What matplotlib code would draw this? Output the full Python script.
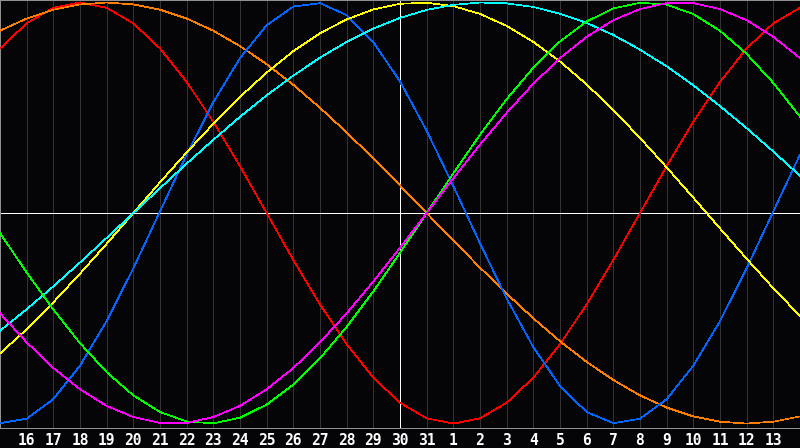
import matplotlib
matplotlib.use("Agg")
import matplotlib.pyplot as plt

# day labels along the bottom (gridline k=1..29), k=0 and k=30 are the edges
day_labels = ["16", "17", "18", "19", "20", "21", "22", "23", "24", "25", "26",
              "27", "28", "29", "30", "31", "1", "2", "3", "4", "5", "6", "7",
              "8", "9", "10", "11", "12", "13"]

# curve values read at each gridline k=0..30
blue = [-0.998, -0.977, -0.884, -0.725, -0.513, -0.262, 0.008, 0.278, 0.527, 0.736,
        0.892, 0.981, 0.997, 0.940, 0.812, 0.625, 0.391, 0.128, -0.144, -0.406,
        -0.637, -0.822, -0.945, -0.998, -0.977, -0.884, -0.725, -0.513, -0.262,
        0.008, 0.278]
red = [0.782, 0.901, 0.975, 1.000, 0.975, 0.901, 0.782, 0.623, 0.434, 0.223,
       0.0, -0.223, -0.434, -0.623, -0.782, -0.901, -0.975, -1.000, -0.975, -0.901,
       -0.782, -0.623, -0.434, -0.223, 0.0, 0.223, 0.434, 0.623, 0.782, 0.901, 0.975]
orange = [0.866, 0.924, 0.966, 0.991, 1.000, 0.991, 0.966, 0.924, 0.866, 0.793,
          0.707, 0.609, 0.500, 0.383, 0.259, 0.131, 0.0, -0.131, -0.259, -0.383,
          -0.500, -0.609, -0.707, -0.793, -0.866, -0.924, -0.966, -0.991, -1.000,
          -0.991, -0.966]
cyan = [-0.559, -0.457, -0.348, -0.235, -0.118, 0.0, 0.118, 0.235, 0.348, 0.457,
        0.559, 0.653, 0.738, 0.813, 0.876, 0.927, 0.965, 0.989, 1.000, 0.996,
        0.979, 0.947, 0.903, 0.846, 0.776, 0.697, 0.607, 0.508, 0.403, 0.292, 0.177]
yellow = [-0.667, -0.552, -0.424, -0.288, -0.146, 0.0, 0.146, 0.288, 0.424, 0.552,
          0.667, 0.769, 0.854, 0.920, 0.967, 0.994, 0.999, 0.983, 0.946, 0.889,
          0.813, 0.720, 0.611, 0.489, 0.357, 0.217, 0.073, -0.073, -0.217, -0.357,
          -0.489]
green = [-0.095, -0.282, -0.458, -0.618, -0.756, -0.866, -0.945, -0.990, -0.999,
         -0.972, -0.910, -0.815, -0.690, -0.541, -0.372, -0.189, 0.0, 0.189, 0.372,
         0.541, 0.690, 0.815, 0.910, 0.972, 0.999, 0.990, 0.945, 0.866, 0.756,
         0.618, 0.458]
magenta = [-0.476, -0.614, -0.736, -0.837, -0.916, -0.969, -0.997, -0.997, -0.969,
           -0.916, -0.837, -0.736, -0.614, -0.476, -0.325, -0.165, 0.0, 0.165,
           0.325, 0.476, 0.614, 0.736, 0.837, 0.916, 0.969, 0.997, 0.997, 0.969,
           0.916, 0.837, 0.736]

days = list(range(len(blue)))
px = 0.72  # one pixel at dpi 100

fig = plt.figure(figsize=(8, 4.48), dpi=100, facecolor="#050508")
ax = fig.add_axes([0, 20 / 448, 1, 428 / 448])
ax.set_facecolor("#050508")

# day gridlines
for k in range(1, 30):
    ax.axvline(k, color="#333333", lw=px, antialiased=False, zorder=1)
ax.axvline(15, color="white", lw=px, antialiased=False, zorder=2)
ax.axhline(0, color="white", lw=px, antialiased=False, zorder=2)

series = [(red, "#ff0000"), (orange, "#ff8000"), (blue, "#0066ff"),
          (yellow, "#ffff00"), (cyan, "#00ffff"), (green, "#00ff00"),
          (magenta, "#ff00ff")]
for vals, col in series:
    ax.plot(days, vals, color=col, lw=0.5, antialiased=False, zorder=3)

ax.set_xlim(0, 30)
ax.set_ylim(-1.021, 1.012)
ax.set_xticks(range(1, 30))
ax.set_xticklabels(day_labels, color="white", fontsize=10.5,
                   family="DejaVu Sans Mono", fontweight="bold")
ax.tick_params(axis="x", length=0, pad=3.5)
ax.set_yticks([])
ax.spines["right"].set_visible(False)
for side in ["left", "top", "bottom"]:
    ax.spines[side].set_color("#909090")
    ax.spines[side].set_linewidth(px)

fig.savefig("out.png", dpi=100, facecolor=fig.get_facecolor())
